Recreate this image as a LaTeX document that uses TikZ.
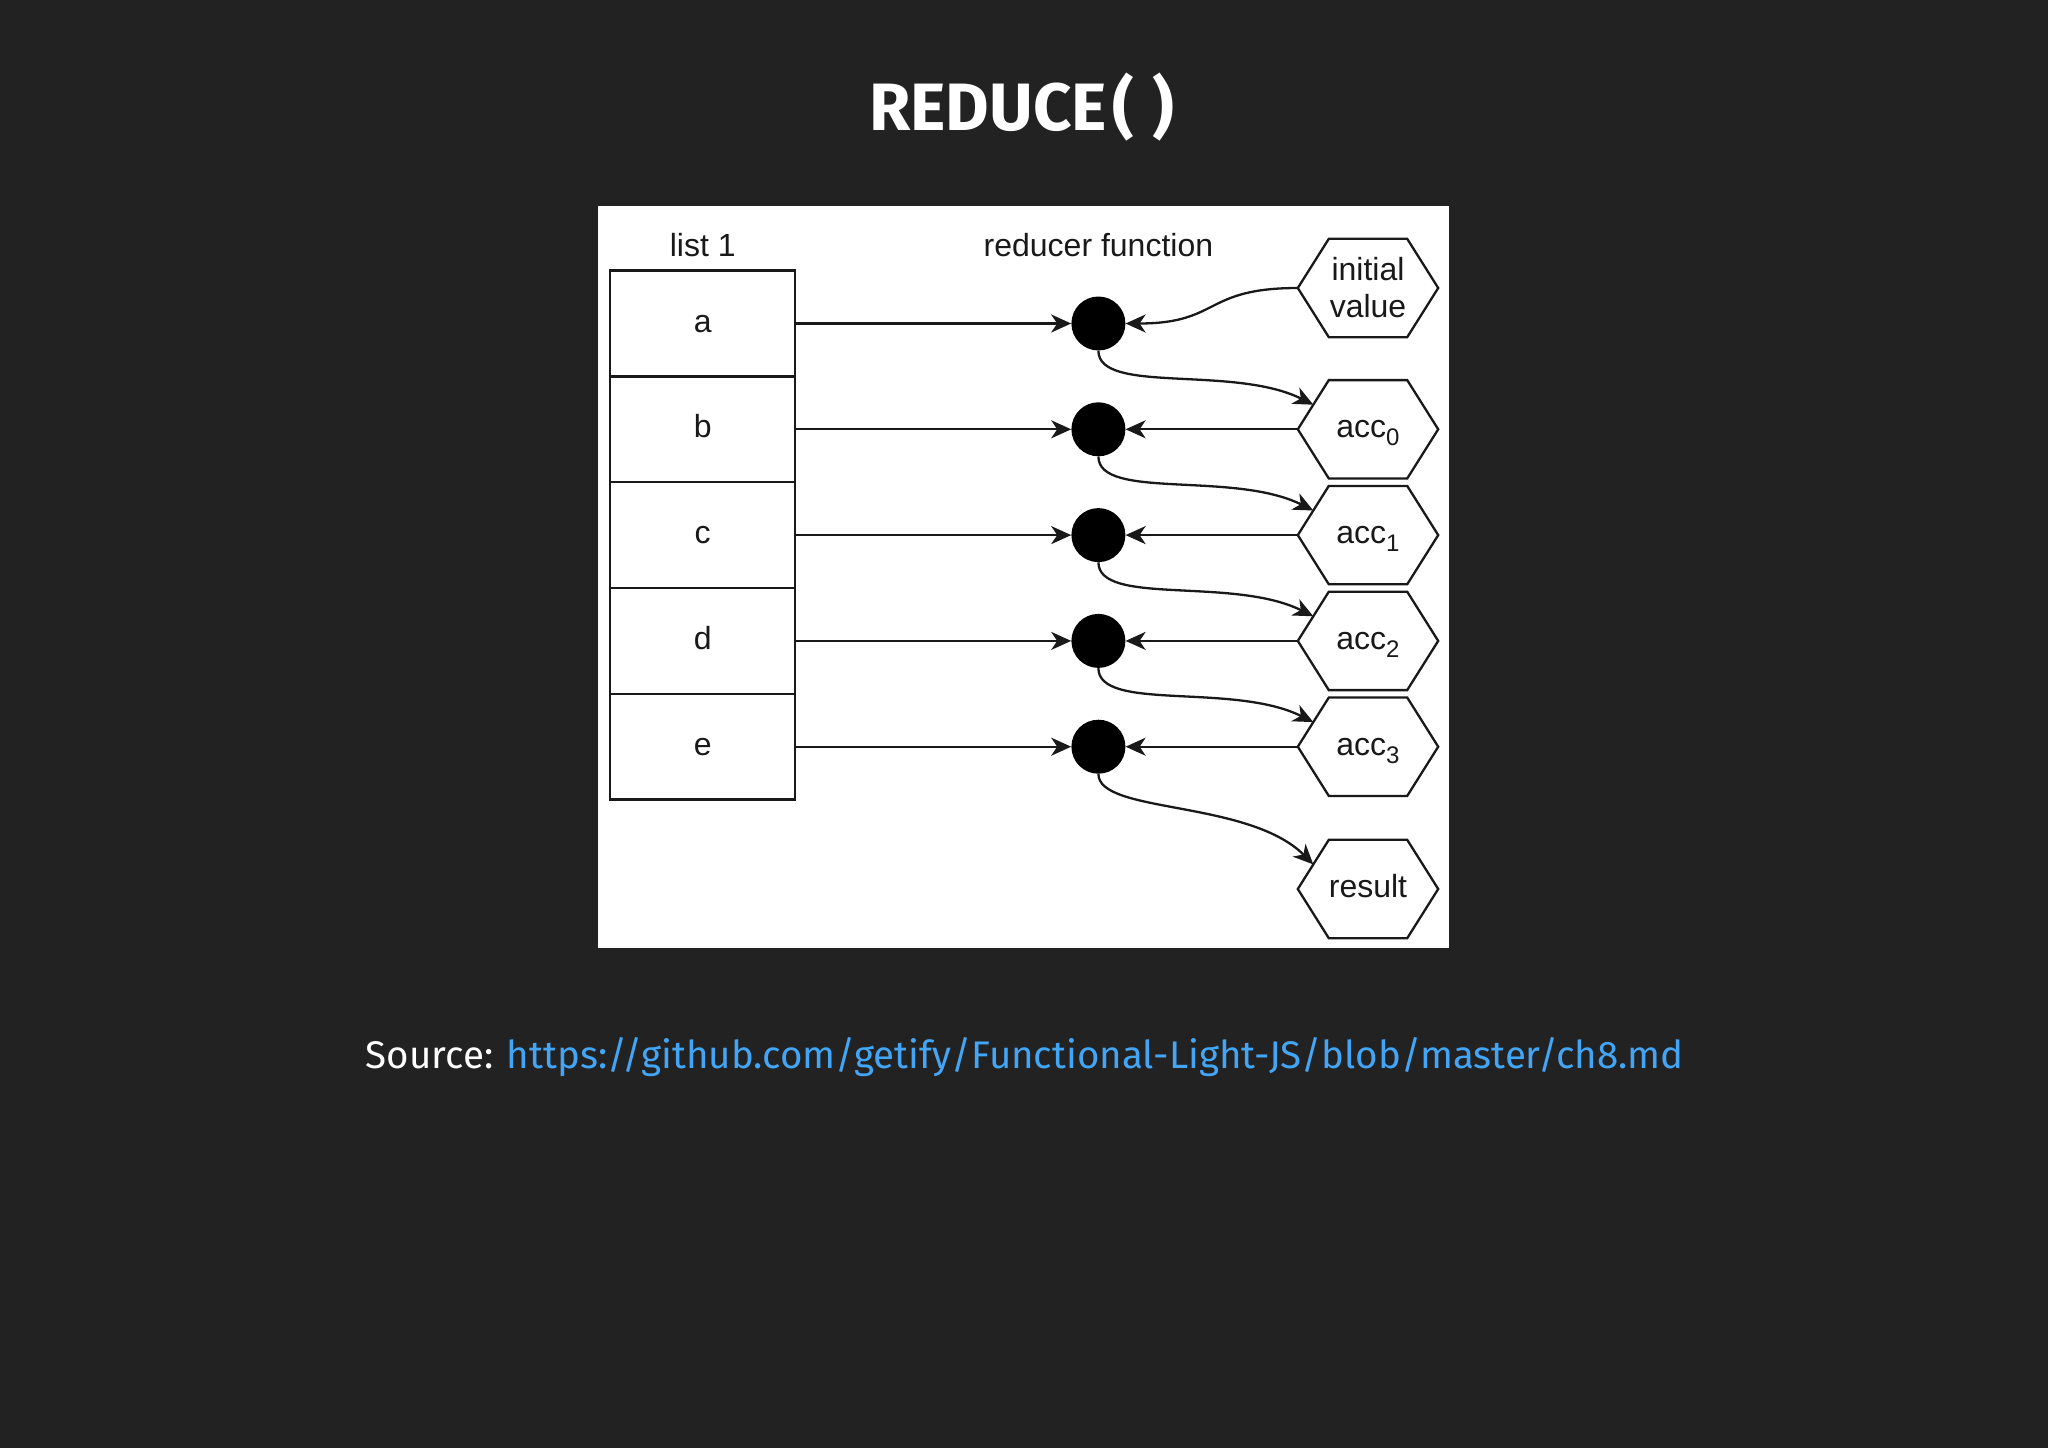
\documentclass[tikz,border=0pt]{standalone}
\usepackage{graphicx}
\usepackage{fontspec}
\setmainfont{Liberation Sans}
\newfontfamily\titlefont{Fira Sans}
\usetikzlibrary{arrows.meta,calc}
\definecolor{bg}{RGB}{34,34,35}
\definecolor{linkblue}{RGB}{66,165,245}
\definecolor{ink}{RGB}{25,25,25}
\newcommand\diagfont{\fontsize{32}{38}\selectfont}
\newcommand\accsub[1]{acc\raisebox{-8pt}{\fontsize{24}{24}\selectfont #1}}
\tikzset{
  cell/.style={draw=ink, line width=2.3pt, minimum width=185pt, minimum height=105.8pt,
    inner sep=0pt, font=\diagfont, text=ink, text height=23pt, text depth=6pt},
  rdot/.style={circle, fill=black, minimum size=54pt, inner sep=0pt},
  hexbox/.style={minimum width=140pt, minimum height=98pt, inner sep=0pt,
    font=\diagfont, text=ink, align=center},
  hexline/.style={draw=ink, line width=2.3pt},
  conn/.style={draw=ink, line width=2.3pt, -{Stealth[length=20pt,width=18pt,inset=6pt]}},
  lbl/.style={font=\diagfont, text=ink, anchor=base},
}
\begin{document}
\begin{tikzpicture}[x=1pt,y=-1pt]
\fill[bg] (0,0) rectangle (2048,1448);
\useasboundingbox (0,0) rectangle (2048,1448);
\fill[white] (598,206) rectangle (1449,948);

% title
\node[anchor=base, text=white, font=\titlefont\bfseries\fontsize{67}{78}\selectfont] (title) at (1022,130.6) {REDUCE\kern0.08em(\kern0.28em)};

% labels
\node[lbl] (listlbl) at (702.7,256) {list 1};
\node[lbl] (redlbl) at (1098.4,256) {reducer function};

% list cells
\node[cell] (ca) at (702.7,323.5) {a};
\node[cell] (cb) at (702.7,429.3) {b};
\node[cell] (cc) at (702.7,535.1) {c};
\node[cell] (cd) at (702.7,640.9) {d};
\node[cell] (ce) at (702.7,746.7) {e};

% reducer dots
\node[rdot] (d1) at (1098.4,323.5) {};
\node[rdot] (d2) at (1098.4,429.3) {};
\node[rdot] (d3) at (1098.4,535.1) {};
\node[rdot] (d4) at (1098.4,640.9) {};
\node[rdot] (d5) at (1098.4,746.7) {};

% hexagons
\node[hexbox] (init) at (1368,288) {initial\\[-1pt]value};
\node[hexbox, text height=23pt, text depth=6pt] (acc0) at (1368,429.3) {\accsub{0}};
\node[hexbox, text height=23pt, text depth=6pt] (acc1) at (1368,535.1) {\accsub{1}};
\node[hexbox, text height=23pt, text depth=6pt] (acc2) at (1368,640.9) {\accsub{2}};
\node[hexbox, text height=23pt, text depth=6pt] (acc3) at (1368,746.7) {\accsub{3}};
\node[hexbox, text height=23pt, text depth=6pt] (res) at (1368,889) {result};

\foreach \n in {init,acc0,acc1,acc2,acc3,res}{
  \draw[hexline] (\n.west) -- ([xshift=31pt]\n.north west) -- ([xshift=-31pt]\n.north east)
    -- (\n.east) -- ([xshift=-31pt]\n.south east) -- ([xshift=31pt]\n.south west) -- cycle;
  \coordinate (\n tip) at ($(\n.west)!0.5!([xshift=31pt]\n.north west)$);
}

% list -> dots
\draw[conn] (ca.east) -- (d1.west);
\draw[conn] (cb.east) -- (d2.west);
\draw[conn] (cc.east) -- (d3.west);
\draw[conn] (cd.east) -- (d4.west);
\draw[conn] (ce.east) -- (d5.west);

% accumulators -> dots
\draw[conn] (init.west) .. controls +(-95,0) and +(95,0) .. (d1.east);
\draw[conn] (acc0.west) -- (d2.east);
\draw[conn] (acc1.west) -- (d3.east);
\draw[conn] (acc2.west) -- (d4.east);
\draw[conn] (acc3.west) -- (d5.east);

% dots -> next accumulator
\draw[conn] (d1.south) .. controls +(0,44) and +(-80,-40) .. (acc0tip);
\draw[conn] (d2.south) .. controls +(0,44) and +(-80,-40) .. (acc1tip);
\draw[conn] (d3.south) .. controls +(0,44) and +(-80,-40) .. (acc2tip);
\draw[conn] (d4.south) .. controls +(0,44) and +(-80,-40) .. (acc3tip);
\draw[conn] (d5.south) .. controls +(0,40) and +(-65,-65) .. (restip);

% source line
\node[anchor=base west, inner sep=0pt, font=\titlefont\fontsize{46}{54}\selectfont] (src) at (365.7,1068)
  {\resizebox{1318pt}{!}{\textcolor{white}{Source:} \textcolor{linkblue}{https://github.com/getify/Functional-Light-JS/blob/master/ch8.md}}};
\end{tikzpicture}
\end{document}
